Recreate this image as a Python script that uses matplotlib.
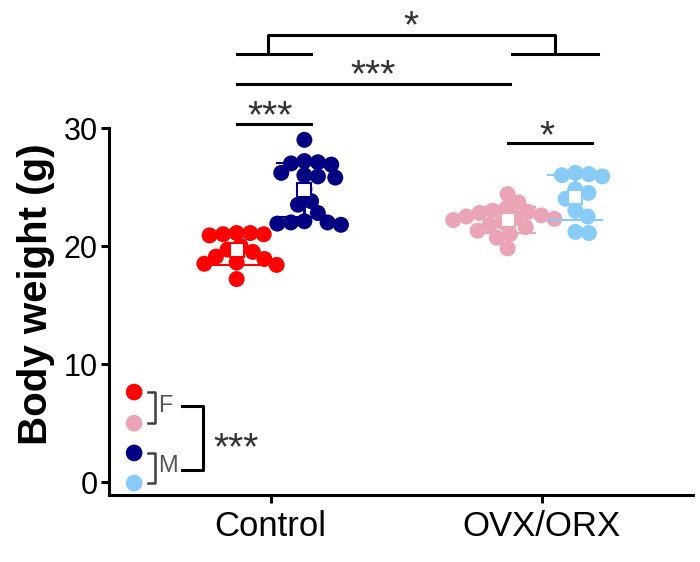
import matplotlib
matplotlib.use("Agg")
import matplotlib.pyplot as plt
import numpy as np

plt.rcParams['font.family'] = ['Liberation Sans', 'DejaVu Sans']

# body weight (g) per animal
groups = ["Control", "OVX/ORX"]
ctrl_f = [21.1, 21.0, 21.1, 21.0, 20.9, 20.0, 19.7, 19.5, 19.1, 18.9, 18.6, 18.5, 18.4, 17.2]
ctrl_m = [29.0, 27.2, 27.0, 27.1, 26.9, 26.2, 26.0, 25.8, 25.9, 24.8, 23.8, 23.5,
          22.8, 22.0, 21.8, 22.0, 22.1, 21.9]
ovx_f = [24.4, 23.7, 23.2, 23.0, 22.9, 22.8, 22.6, 22.5, 22.4, 22.3, 22.2, 22.0,
         21.8, 21.6, 21.3, 21.0, 20.7, 19.8]
orx_m = [26.2, 26.1, 26.0, 25.9, 24.8, 24.5, 24.0, 23.0, 22.5, 21.2, 21.1]
colors = ["#ff0000", "#000080", "#eba3b6", "#88cbf7"]
sex_labels = ["F", "M"]

fig = plt.figure(figsize=(7, 5.62), dpi=100)
ax = fig.add_axes([109 / 700, 67 / 562, 584 / 700, 495 / 562])
ax.set_xlim(0.404, 2.559)
ax.set_ylim(-1.1, 40.85)

off = 0.125
xpos = [1 - off, 1 + off, 2 - off, 2 + off]
data = [ctrl_f, ctrl_m, ovx_f, orx_m]

ms_pt = 11.5
diam_px = ms_pt * 100 / 72


def swarm(vals, center, spread=0.85):
    # simple beeswarm in pixel space, points may overlap a bit
    vals = np.asarray(vals, float)
    d = diam_px * spread
    pix = ax.transData.transform(np.column_stack([np.full(len(vals), center), vals]))
    cx = pix[0, 0]
    placed = []
    xs = np.zeros(len(vals))
    for i in np.argsort(-vals):
        y = pix[i, 1]
        cands = [0.0]
        for px, py in placed:
            dy = y - py
            if abs(dy) < d:
                dx = np.sqrt(d * d - dy * dy)
                cands += [px + dx, px - dx]
        cands.sort(key=abs)
        for c in cands:
            if all((c - px) ** 2 + (y - py) ** 2 >= d * d - 1e-6 for px, py in placed):
                break
        placed.append((c, y))
        xs[i] = ax.transData.inverted().transform((cx + c, y))[0]
    return xs


for vals, x0, col in zip(data, xpos, colors):
    xs = swarm(vals, x0)
    ax.scatter(xs, vals, s=ms_pt ** 2, color=col, edgecolors='none', zorder=3)
    m = np.mean(vals)
    sd = np.std(vals, ddof=1)
    ax.errorbar(x0, m, yerr=sd, color=col, elinewidth=2.2, capsize=20, capthick=2.4,
                marker='s', ms=9.5, mfc='white', mec=col, mew=1.5, zorder=4)

# axes styling
for s in ['top', 'right']:
    ax.spines[s].set_visible(False)
ax.spines['left'].set_bounds(-1.1, 30)
ax.spines['left'].set_linewidth(2.2)
ax.spines['bottom'].set_linewidth(2.2)
ax.set_yticks([0, 10, 20, 30])
ax.set_xticks([1, 2])
ax.set_xticklabels(groups)
ax.tick_params(axis='both', width=2.2, length=6, labelsize=22, pad=2)
ax.tick_params(axis='x', labelsize=25, pad=5)
ax.set_ylabel("Body weight (g)", fontsize=29, fontweight='bold')
ax.yaxis.set_label_coords(-0.092, 0.405)

# significance brackets
lw = 2.2
star_kw = dict(ha='center', va='baseline', fontsize=28, color='#333333')
ax.plot([xpos[0], xpos[1] + 0.025], [30.34, 30.34], color='k', lw=lw)
ax.text(1.0, 30.1, "***", **star_kw)
ax.plot([xpos[2], xpos[3] + 0.06], [28.73, 28.73], color='k', lw=lw)
ax.text(2.02, 28.4, "*", **star_kw)
ax.plot([xpos[0], xpos[2] + 0.01], [33.73, 33.73], color='k', lw=lw)
ax.text(1.38, 33.55, "***", **star_kw)
ax.plot([xpos[0], xpos[1] + 0.025], [36.27, 36.27], color='k', lw=lw)
ax.plot([xpos[2] + 0.015, xpos[3] + 0.085], [36.27, 36.27], color='k', lw=lw)
ax.plot([0.99, 0.99, 2.05, 2.05], [36.27, 37.88, 37.88, 36.27], color='k', lw=lw)
ax.text(1.52, 37.65, "*", **star_kw)

# legend keys with F / M brackets
lx = 0.043
ly = [0.208, 0.145, 0.085, 0.024]
ax.scatter([lx] * 4, ly, s=12 ** 2, color=colors[0:1] + colors[2:3] + colors[1:2] + colors[3:4],
           edgecolors='none', transform=ax.transAxes, clip_on=False, zorder=3)
gray = '#404040'
bx0, bx1 = 0.066, 0.078
for (ya, yb), lab in zip([(ly[0], ly[1]), (ly[2], ly[3])], sex_labels):
    ax.plot([bx0, bx1, bx1, bx0], [ya, ya, yb, yb], color=gray, lw=1.8, transform=ax.transAxes)
    ax.text(bx1 + 0.006, (ya + yb) / 2 + 0.004, lab, fontsize=17, color='#555555',
            ha='left', va='center', transform=ax.transAxes)
ax.plot([0.125, 0.161, 0.161, 0.125], [0.179, 0.179, 0.051, 0.051], color='k', lw=2.2,
        transform=ax.transAxes)
ax.text(0.178, 0.072, "***", fontsize=28, color='#333333', ha='left', va='baseline',
        transform=ax.transAxes)

fig.savefig("out.png", dpi=100)
